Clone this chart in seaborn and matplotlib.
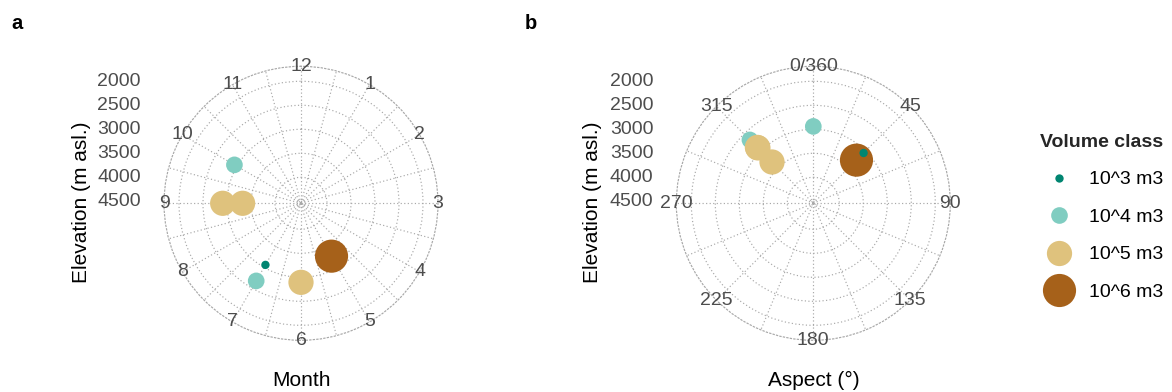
import numpy as np
import pandas as pd
import matplotlib
matplotlib.use("Agg")
import matplotlib.pyplot as plt
from matplotlib.transforms import offset_copy
import seaborn as sns

# ---------------- data ----------------
volume_classes = ["10^3 m3", "10^4 m3", "10^5 m3", "10^6 m3"]
class_colors = ["#018571", "#80CDC1", "#DFC27D", "#A6611A"]
class_sizes = [36, 144, 330, 570]

event_class = ["10^4 m3", "10^4 m3", "10^5 m3", "10^5 m3", "10^5 m3", "10^6 m3", "10^3 m3"]
event_month = [10, 7, 9, 9, 6, 5, 7]
event_aspect = [0, 315, 315, 315, 315, 45, 45]
event_elevation = [2940, 2675, 2910, 3325, 2895, 3270, 3060]

month_ticks = [1, 2, 3, 4, 5, 6, 7, 8, 9, 10, 11, 12]
month_minor = [0.5, 1.5, 2.5, 3.5, 4.5, 5.5, 6.5, 7.5, 8.5, 9.5, 10.5, 11.5]
aspect_ticks = [0, 45, 90, 135, 180, 225, 270, 315]
aspect_labels = ["0/360", "45", "90", "135", "180", "225", "270", "315"]
aspect_minor = [22.5, 67.5, 112.5, 157.5, 202.5, 247.5, 292.5, 337.5]
elev_ticks = [2000, 2500, 3000, 3500, 4000, 4500]

df = pd.DataFrame({
    "Volume class": event_class,
    "Month": event_month,
    "Aspect": event_aspect,
    "Elevation": event_elevation,
})
df["theta_month"] = np.deg2rad(df["Month"] * 30.0)
df["theta_aspect"] = np.deg2rad(df["Aspect"])

# ---------------- style ----------------
sns.set_theme(style="white")
plt.rcParams["font.family"] = ["Liberation Sans", "DejaVu Sans"]

W, H = 1172, 392
fig = plt.figure(figsize=(W / 100, H / 100), dpi=100)

R = 137.0
R_INNER, R_OUTER = 4541.7, 1687.5
GRID_COL = "#A8A8A8"
GRID_LS = (0, (1, 2))
GRID_LW = 0.85
TICK_COL = "#4D4D4D"
SMALL = 14
BIG = 15

palette = dict(zip(volume_classes, class_colors))
sizes = dict(zip(volume_classes, class_sizes))


def make_polar(cx, cy_top):
    cy = H - cy_top
    ax = fig.add_axes([(cx - R) / W, (cy - R) / H, 2 * R / W, 2 * R / H],
                      projection="polar")
    ax.set_theta_zero_location("N")
    ax.set_theta_direction(-1)
    return ax


def style_polar(ax, ticks_deg, labels, minor_deg):
    ax.set_ylim(R_INNER, R_OUTER)
    ax.set_xticks(np.deg2rad(ticks_deg))
    ax.set_xticklabels([])
    ax.set_xticks(np.deg2rad(minor_deg), minor=True)
    ax.set_yticks(elev_ticks)
    ax.set_yticklabels([])
    ax.tick_params(axis="both", which="both", length=0)
    ax.grid(True, which="major", color=GRID_COL, linestyle=GRID_LS, linewidth=GRID_LW)
    ax.xaxis.grid(True, which="minor", color=GRID_COL, linestyle=GRID_LS, linewidth=GRID_LW)
    ax.spines["polar"].set_edgecolor(GRID_COL)
    ax.spines["polar"].set_linestyle(GRID_LS)
    ax.spines["polar"].set_linewidth(GRID_LW)
    ax.set_facecolor("none")
    ax.set_xlabel("")
    ax.set_ylabel("")
    # angular labels centred on the outer circle (ggplot style)
    for t, lab in zip(ticks_deg, labels):
        ax.text(np.deg2rad(t), R_OUTER, lab, ha="center", va="center",
                color=TICK_COL, fontsize=SMALL, clip_on=False)
    # radial labels in a column on the left
    tr = offset_copy(ax.transData, fig=fig, x=-160, y=0, units="dots")
    for e in elev_ticks:
        ax.text(0, e, f"{e}", transform=tr, ha="right", va="center",
                color=TICK_COL, fontsize=SMALL, clip_on=False)


# panel a
ax1 = make_polar(301, 203.3)
sns.scatterplot(data=df, x="theta_month", y="Elevation", hue="Volume class",
                size="Volume class", hue_order=volume_classes, size_order=volume_classes,
                palette=palette, sizes=sizes, linewidth=0, alpha=1, ax=ax1, legend=False)
style_polar(ax1, [m * 30 for m in month_ticks], [str(m) for m in month_ticks],
            [m * 30 for m in month_minor])

# panel b
ax2 = make_polar(813.3, 203.3)
sns.scatterplot(data=df, x="theta_aspect", y="Elevation", hue="Volume class",
                size="Volume class", hue_order=volume_classes, size_order=volume_classes,
                palette=palette, sizes=sizes, linewidth=0, alpha=1, ax=ax2, legend=True)
style_polar(ax2, aspect_ticks, aspect_labels, aspect_minor)

sns.move_legend(ax2, loc="upper left",
                bbox_to_anchor=(1040.0 / W, 1 - 134.0 / H),
                bbox_transform=fig.transFigure, frameon=False,
                fontsize=SMALL, labelspacing=1.02, handlelength=2.0,
                handletextpad=0.5, borderpad=0, borderaxespad=0)
leg = ax2.get_legend()
leg.set_title("Volume class")
leg.get_title().set_fontweight("bold")
leg.get_title().set_fontsize(14)
leg.set_alignment("left")
for t in leg.get_texts():
    t.set_color("black")

# titles
fig.text(81.7 / W, 1 - 202.5 / H, "Elevation (m asl.)", rotation=90,
         ha="center", va="center", fontsize=BIG, color="black")
fig.text(593 / W, 1 - 202.5 / H, "Elevation (m asl.)", rotation=90,
         ha="center", va="center", fontsize=BIG, color="black")
fig.text(301 / W, 1 - 386.5 / H, "Month", ha="center", va="baseline",
         fontsize=BIG, color="black")
fig.text(814 / W, 1 - 386.5 / H, "Aspect (°)", ha="center", va="baseline",
         fontsize=BIG, color="black")
fig.text(17.5 / W, 1 - 23.5 / H, "a", ha="center", va="center",
         fontsize=14.5, fontweight="bold", color="black")
fig.text(531 / W, 1 - 23.5 / H, "b", ha="center", va="center",
         fontsize=14.5, fontweight="bold", color="black")

fig.savefig("out.png", dpi=100, facecolor="white")
